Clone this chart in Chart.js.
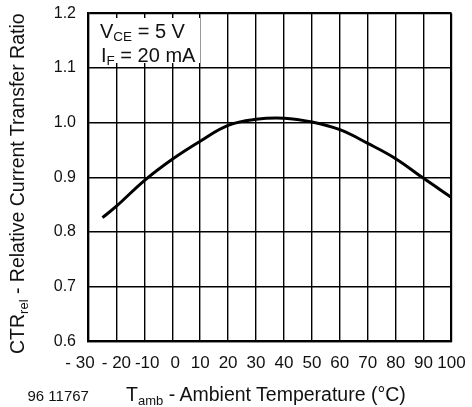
<!DOCTYPE html>
<html>
<head>
<meta charset="utf-8">
<script src="https://cdn.jsdelivr.net/npm/chart.js@4/dist/chart.umd.min.js"></script>
<style>
  html, body { margin: 0; padding: 0; background: #fff; }
  #wrap { position: relative; width: 472px; height: 407px; overflow: hidden; }
  canvas { position: absolute; left: 0; top: 0; }
  .txt { position: absolute; white-space: nowrap; line-height: 1; color: #111;
         font-family: "Liberation Sans", Arial, Helvetica, sans-serif; }
  .sub { position: relative; }
  #note { position: absolute; left: 90px; top: 18px; width: 109.5px; height: 44.5px; background: #fff; }
</style>
</head>
<body>
<div id="wrap">
  <canvas id="c" width="472" height="407"></canvas>
  <div id="note"></div>
  <div class="txt" style="left:100px; top:21px; font-size:20px;">V<span class="sub" style="font-size:13.5px; top:2.5px;">CE</span> = 5 V</div>
  <div class="txt" style="left:101px; top:45px; font-size:20px;">I<span class="sub" style="font-size:13.5px; top:3px;">F</span> = 20 mA</div>
  <div class="txt" style="left:7.5px; top:354px; font-size:19.5px; transform-origin:0 0; transform:rotate(-90deg);">CTR<span class="sub" style="font-size:13px; top:3.5px;">rel</span> - Relative Current Transfer Ratio</div>
  <div class="txt" style="left:126px; top:385px; font-size:19.5px;">T<span class="sub" style="font-size:13px; top:3.5px;">amb</span> - Ambient Temperature (°C)</div>
  <div class="txt" style="left:27.5px; top:388px; font-size:15px;">96 11767</div>
</div>
<script>
// Relative CTR versus ambient temperature (VCE = 5 V, IF = 20 mA)
const temperatures = [-25, -20, -10, 0, 10, 20, 30, 40, 50, 60, 70, 80, 90, 100];
const ctrRel = [0.826, 0.847, 0.894, 0.933, 0.966, 0.995, 1.006, 1.008, 1.001, 0.987, 0.962, 0.934, 0.898, 0.863];

const xTickLabels = ["- 30", "- 20", "-10", "0", "10", "20", "30", "40", "50", "60", "70", "80", "90", "100"];
const yTickLabels = ["0.6", "0.7", "0.8", "0.9", "1.0", "1.1", "1.2"];

const points = temperatures.map((t, i) => ({ x: t, y: ctrRel[i] }));

const edgeWidth = (ctx, n) => (ctx.index === 0 || ctx.index === n - 1) ? 2.2 : 1.4;

// keep the plot rectangle fixed: no extra room reserved for overhanging labels
const noLabelPadding = s => { s.paddingTop = 0; s.paddingBottom = 0; s.paddingLeft = 0; s.paddingRight = 0; };

// nudge the crowded negative labels apart with invisible spacing
const xLabel = i => {
  if (i === 0) return xTickLabels[i] + '\u2003';
  if (i === 2 || i === 3) return '\u2004' + xTickLabels[i];
  return xTickLabels[i];
};

new Chart(document.getElementById('c'), {
  type: 'line',
  data: {
    datasets: [{
      data: points,
      borderColor: '#000',
      borderWidth: 3,
      pointRadius: 0,
      tension: 0.4,
      fill: false
    }]
  },
  options: {
    responsive: false,
    animation: false,
    events: [],
    layout: { padding: { left: 0, top: 13.3, right: 20.5, bottom: 0 } },
    plugins: { legend: { display: false }, tooltip: { enabled: false } },
    scales: {
      x: {
        type: 'linear',
        min: -30,
        max: 100,
        afterFit: s => { s.height = 65.8; noLabelPadding(s); },
        afterBuildTicks: s => { s.ticks = xTickLabels.map((_, i) => ({ value: -30 + 10 * i })); },
        grid: { color: '#000', lineWidth: ctx => edgeWidth(ctx, xTickLabels.length), drawTicks: false },
        border: { display: true, color: '#000', width: 2.2 },
        ticks: {
          color: '#111',
          padding: 12,
          maxRotation: 0,
          autoSkip: false,
          font: { family: '"Liberation Sans", Arial, sans-serif', size: 17 },
          callback: (v, i) => xLabel(i)
        }
      },
      y: {
        min: 0.6,
        max: 1.2,
        afterFit: s => { s.width = 88.5; noLabelPadding(s); },
        afterBuildTicks: s => { s.ticks = yTickLabels.map(l => ({ value: parseFloat(l) })); },
        grid: { color: '#000', lineWidth: ctx => edgeWidth(ctx, yTickLabels.length), drawTicks: false },
        border: { display: true, color: '#000', width: 2.2 },
        ticks: {
          color: '#111',
          padding: 12.5,
          autoSkip: false,
          font: { family: '"Liberation Sans", Arial, sans-serif', size: 16 },
          callback: (v, i) => yTickLabels[i]
        }
      }
    }
  }
});
</script>
</body>
</html>
